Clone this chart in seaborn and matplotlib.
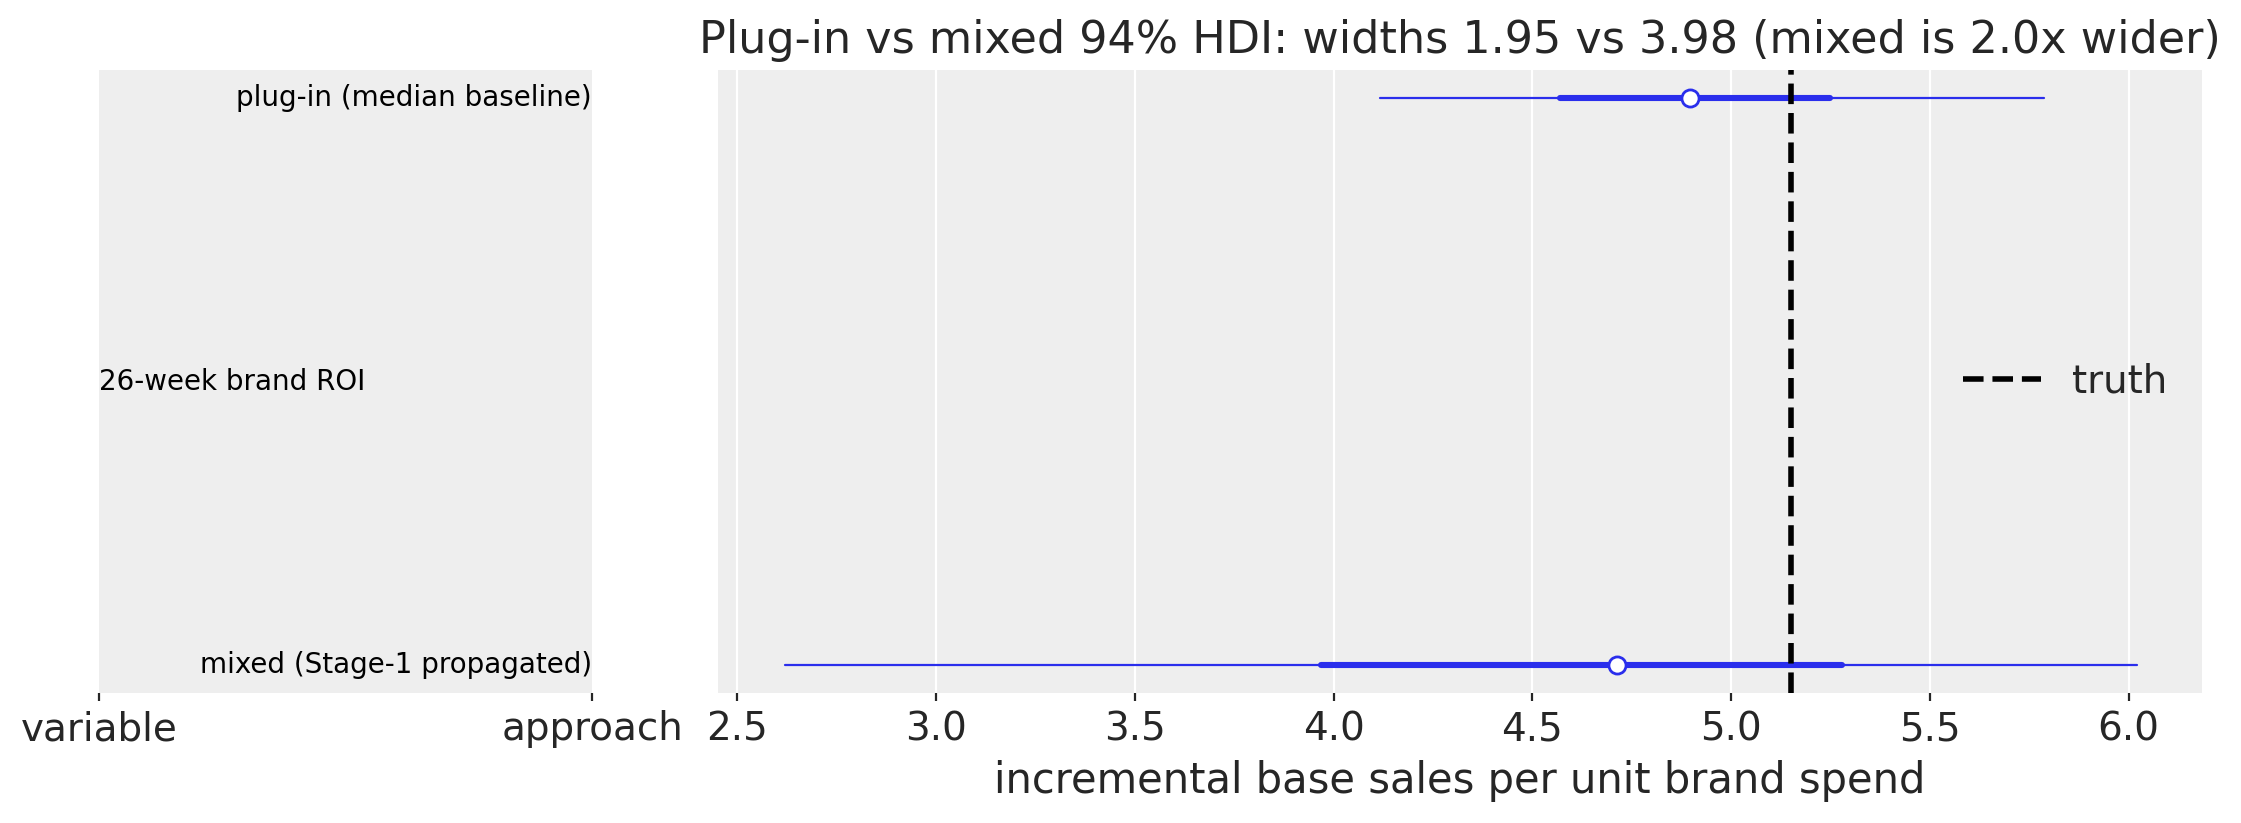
import matplotlib
matplotlib.use("Agg")
import matplotlib.pyplot as plt
import seaborn as sns
import pandas as pd

# ── data ─────────────────────────────────────────────────────────────────────
variable_name = "26-week brand ROI"
approaches = ["mixed (Stage-1 propagated)", "plug-in (median baseline)"]
row_pos = [0, 1]
hdi_low = [2.621, 4.117]      # 94% HDI (thin line)
hdi_high = [6.020, 5.786]
iqr_low = [3.968, 4.571]      # 50% interval (thick line)
iqr_high = [5.279, 5.249]
medians = [4.712, 4.896]
truth = 5.151

title = "Plug-in vs mixed 94% HDI: widths 1.95 vs 3.98 (mixed is 2.0x wider)"
xlabel = "incremental base sales per unit brand spend"
label_cols = ["variable", "approach"]
xticks = [2.5, 3.0, 3.5, 4.0, 4.5, 5.0, 5.5, 6.0]

blue = "#2a2eec"

sns.set_theme(style="darkgrid", rc={
    "axes.facecolor": "#eeeeee",
    "grid.color": "white",
    "grid.linewidth": 0.8,
    "xtick.bottom": True,
    "xtick.major.size": 2.8,
    "xtick.major.width": 0.8,
    "xtick.color": ".15",
    "xtick.labelsize": 14,
    "axes.titlesize": 16,
    "axes.labelsize": 15,
    "legend.fontsize": 14,
})
plt.rcParams["font.family"] = ["DejaVu Sans"]

# long-form frames for seaborn
def segments(lo, hi):
    rows = []
    for i, (a, b) in enumerate(zip(lo, hi)):
        rows.append({"seg": i, "x": a, "y": row_pos[i]})
        rows.append({"seg": i, "x": b, "y": row_pos[i]})
    return pd.DataFrame(rows)

thin = segments(hdi_low, hdi_high)
thick = segments(iqr_low, iqr_high)
points = pd.DataFrame({"x": medians, "y": row_pos})

W, H = 2241, 823
fig = plt.figure(figsize=(W / 200, H / 200), dpi=200)
ax_lab = fig.add_axes([99 / W, 130 / H, 493 / W, 623 / H])
ax = fig.add_axes([718 / W, 130 / H, 1484 / W, 623 / H], sharey=ax_lab)

# ── forest panel ─────────────────────────────────────────────────────────────
sns.lineplot(data=thin, x="x", y="y", units="seg", estimator=None, sort=False,
             color=blue, linewidth=0.8, ax=ax)
sns.lineplot(data=thick, x="x", y="y", units="seg", estimator=None, sort=False,
             color=blue, linewidth=2.2, solid_capstyle="round", ax=ax)
sns.scatterplot(data=points, x="x", y="y", marker="o", s=38, color="white",
                edgecolor=blue, linewidth=1.0, zorder=4, ax=ax)
ax.axvline(truth, color="black", linestyle="--", linewidth=2, zorder=5, label="truth")

ax.set_xlim(2.4517, 6.1847)
ax.set_ylim(-0.05, 1.05)
ax.set_xticks(xticks)
ax.set_xticklabels([f"{t:.1f}" for t in xticks])
ax.grid(axis="y", visible=False)
ax.tick_params(axis="y", left=False, labelleft=False)
ax.set_ylabel("")
ax.set_xlabel(xlabel)
ax.set_title(title)
ax.legend(loc="center right", frameon=False)
for s in ax.spines.values():
    s.set_visible(False)

# ── label panel ──────────────────────────────────────────────────────────────
ax_lab.set_xlim(0, 1)
ax_lab.grid(False)
ax_lab.set_xticks([0, 1])
ax_lab.set_xticklabels(label_cols)
ax_lab.tick_params(axis="y", left=False, labelleft=False)
ax_lab.text(0, 0.5, variable_name, ha="left", va="center", fontsize=10, color="black")
for yy, name in zip(row_pos, approaches):
    ax_lab.text(1, yy, name, ha="right", va="center", fontsize=10, color="black")
for s in ax_lab.spines.values():
    s.set_visible(False)

fig.savefig("out.png", dpi=200)
